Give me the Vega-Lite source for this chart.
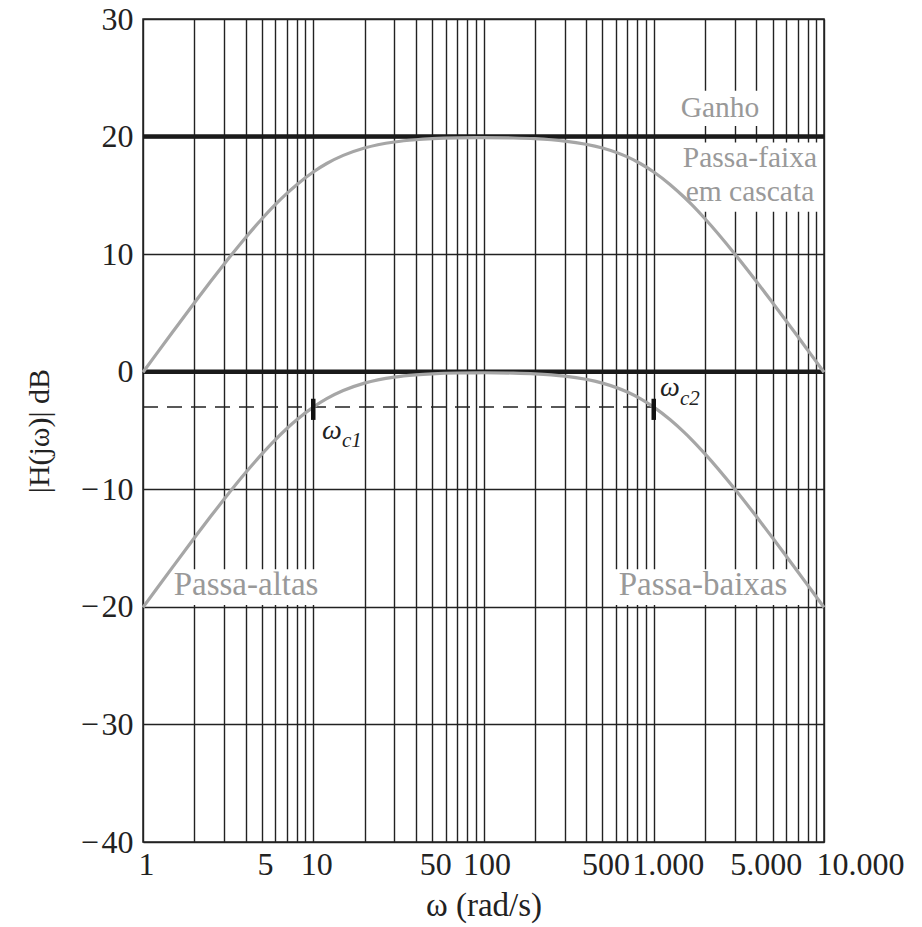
{
  "$schema": "https://vega.github.io/schema/vega-lite/v6.json",
  "width": 681,
  "height": 823,
  "autosize": {"type": "none"},
  "padding": {"left": 143, "top": 19, "right": 98, "bottom": 85},
  "background": "white",
  "config": {"view": {"stroke": "#222222", "strokeWidth": 1.5}, "font": "Liberation Serif"},
  "datasets": {
    "boxes": [
      {"w": 1633, "w2": 4500, "db": 20.9, "db2": 23.9},
      {"w": 1530, "w2": 9500, "db": 13.6, "db2": 19.5},
      {"w": 1.55, "w2": 12, "db": -19.85, "db2": -16.8},
      {"w": 590, "w2": 7700, "db": -19.85, "db2": -16.8}
    ],
    "dash": [{"w": 1, "w2": 1000, "db": -3}],
    "hlines": [{"db": 0}, {"db": 20}],
    "curves": [
      {"w": 1, "db": -20.04, "series": "Passa-faixa"},
      {"w": 1.2, "db": -18.48, "series": "Passa-faixa"},
      {"w": 1.5, "db": -16.58, "series": "Passa-faixa"},
      {"w": 2, "db": -14.15, "series": "Passa-faixa"},
      {"w": 2.5, "db": -12.30, "series": "Passa-faixa"},
      {"w": 3, "db": -10.83, "series": "Passa-faixa"},
      {"w": 4, "db": -8.60, "series": "Passa-faixa"},
      {"w": 5, "db": -6.99, "series": "Passa-faixa"},
      {"w": 6, "db": -5.77, "series": "Passa-faixa"},
      {"w": 7, "db": -4.83, "series": "Passa-faixa"},
      {"w": 8, "db": -4.09, "series": "Passa-faixa"},
      {"w": 10, "db": -3.01, "series": "Passa-faixa"},
      {"w": 12, "db": -2.29, "series": "Passa-faixa"},
      {"w": 15, "db": -1.60, "series": "Passa-faixa"},
      {"w": 20, "db": -0.97, "series": "Passa-faixa"},
      {"w": 30, "db": -0.46, "series": "Passa-faixa"},
      {"w": 40, "db": -0.27, "series": "Passa-faixa"},
      {"w": 50, "db": -0.18, "series": "Passa-faixa"},
      {"w": 70, "db": -0.11, "series": "Passa-faixa"},
      {"w": 100, "db": -0.09, "series": "Passa-faixa"},
      {"w": 150, "db": -0.12, "series": "Passa-faixa"},
      {"w": 200, "db": -0.18, "series": "Passa-faixa"},
      {"w": 250, "db": -0.27, "series": "Passa-faixa"},
      {"w": 300, "db": -0.38, "series": "Passa-faixa"},
      {"w": 500, "db": -0.97, "series": "Passa-faixa"},
      {"w": 700, "db": -1.73, "series": "Passa-faixa"},
      {"w": 833, "db": -2.29, "series": "Passa-faixa"},
      {"w": 1000, "db": -3.01, "series": "Passa-faixa"},
      {"w": 1250, "db": -4.09, "series": "Passa-faixa"},
      {"w": 1500, "db": -5.12, "series": "Passa-faixa"},
      {"w": 1667, "db": -5.77, "series": "Passa-faixa"},
      {"w": 2000, "db": -6.99, "series": "Passa-faixa"},
      {"w": 3000, "db": -10.00, "series": "Passa-faixa"},
      {"w": 4000, "db": -12.30, "series": "Passa-faixa"},
      {"w": 5000, "db": -14.15, "series": "Passa-faixa"},
      {"w": 7000, "db": -16.99, "series": "Passa-faixa"},
      {"w": 8333, "db": -18.48, "series": "Passa-faixa"},
      {"w": 10000, "db": -20.04, "series": "Passa-faixa"},
      {"w": 1, "db": -0.04, "series": "Cascata"},
      {"w": 1.2, "db": 1.52, "series": "Cascata"},
      {"w": 1.5, "db": 3.42, "series": "Cascata"},
      {"w": 2, "db": 5.85, "series": "Cascata"},
      {"w": 2.5, "db": 7.70, "series": "Cascata"},
      {"w": 3, "db": 9.17, "series": "Cascata"},
      {"w": 4, "db": 11.40, "series": "Cascata"},
      {"w": 5, "db": 13.01, "series": "Cascata"},
      {"w": 6, "db": 14.23, "series": "Cascata"},
      {"w": 7, "db": 15.17, "series": "Cascata"},
      {"w": 8, "db": 15.91, "series": "Cascata"},
      {"w": 10, "db": 16.99, "series": "Cascata"},
      {"w": 12, "db": 17.71, "series": "Cascata"},
      {"w": 15, "db": 18.40, "series": "Cascata"},
      {"w": 20, "db": 19.03, "series": "Cascata"},
      {"w": 30, "db": 19.54, "series": "Cascata"},
      {"w": 40, "db": 19.73, "series": "Cascata"},
      {"w": 50, "db": 19.82, "series": "Cascata"},
      {"w": 70, "db": 19.89, "series": "Cascata"},
      {"w": 100, "db": 19.91, "series": "Cascata"},
      {"w": 150, "db": 19.88, "series": "Cascata"},
      {"w": 200, "db": 19.82, "series": "Cascata"},
      {"w": 250, "db": 19.73, "series": "Cascata"},
      {"w": 300, "db": 19.62, "series": "Cascata"},
      {"w": 500, "db": 19.03, "series": "Cascata"},
      {"w": 700, "db": 18.27, "series": "Cascata"},
      {"w": 833, "db": 17.71, "series": "Cascata"},
      {"w": 1000, "db": 16.99, "series": "Cascata"},
      {"w": 1250, "db": 15.91, "series": "Cascata"},
      {"w": 1500, "db": 14.88, "series": "Cascata"},
      {"w": 1667, "db": 14.23, "series": "Cascata"},
      {"w": 2000, "db": 13.01, "series": "Cascata"},
      {"w": 3000, "db": 10.00, "series": "Cascata"},
      {"w": 4000, "db": 7.70, "series": "Cascata"},
      {"w": 5000, "db": 5.85, "series": "Cascata"},
      {"w": 7000, "db": 3.01, "series": "Cascata"},
      {"w": 8333, "db": 1.52, "series": "Cascata"},
      {"w": 10000, "db": -0.04, "series": "Cascata"}
    ],
    "cuts": [
      {"w": 10, "db": -2.3, "db2": -4.1},
      {"w": 1000, "db": -2.3, "db2": -4.1}
    ],
    "namesTop": [
      {"w": 2449, "db": 22.45, "text": "Ganho"},
      {"w": 3673, "db": 18.2, "text": "Passa-faixa"},
      {"w": 3673, "db": 15.3, "text": "em cascata"}
    ],
    "namesBottom": [
      {"w": 4.03, "db": -18.1, "text": "Passa-altas"},
      {"w": 1946, "db": -18.1, "text": "Passa-baixas"}
    ],
    "omegas": [
      {"w": 11.26, "db": -5.7, "text": "ω"},
      {"w": 1088, "db": -2.1, "text": "ω"}
    ],
    "subs": [
      {"w": 14.75, "db": -6.4, "text": "c1"},
      {"w": 1426, "db": -2.8, "text": "c2"}
    ]
  },
  "layer": [
    {
      "data": {"name": "boxes"},
      "mark": {"type": "rect", "fill": "white", "stroke": null},
      "encoding": {
        "x": {
          "field": "w", "type": "quantitative",
          "scale": {"type": "log", "domain": [1, 10000], "nice": false},
          "axis": {
            "values": [1,2,3,4,5,6,7,8,9,10,20,30,40,50,60,70,80,90,100,200,300,400,500,600,700,800,900,1000,2000,3000,4000,5000,6000,7000,8000,9000,10000],
            "grid": true, "gridColor": "#222222", "gridWidth": 1.4, "gridOpacity": 1,
            "domain": false, "ticks": false,
            "labelExpr": "datum.value==1?'1':datum.value==5?'5':datum.value==10?'10':datum.value==50?'50':datum.value==100?'100':datum.value==500?'500':datum.value==1000?'1.000':datum.value==5000?'5.000':datum.value==10000?'10.000':''",
            "labelFont": "Liberation Serif", "labelFontSize": 32, "labelColor": "#222222",
            "labelPadding": 7, "labelOverlap": false, "labelBound": false, "labelFlush": false,
            "labelOffset": {"condition": [{"test": "datum.value == 10000", "value": 36}, {"test": "datum.value == 1000", "value": 14}, {"test": "datum.value == 5000", "value": -7}], "value": 3},
            "title": "ω (rad/s)", "titleFont": "Liberation Serif", "titleFontSize": 33, "titleFontWeight": "normal", "titleColor": "#222222", "titlePadding": 9
          }
        },
        "x2": {"field": "w2"},
        "y": {
          "field": "db", "type": "quantitative",
          "scale": {"domain": [-40, 30], "nice": false, "zero": false},
          "axis": {
            "values": [-40, -30, -20, -10, 0, 10, 20, 30],
            "grid": true, "gridColor": "#222222", "gridWidth": 1.4, "gridOpacity": 1,
            "domain": false, "ticks": false,
            "labelExpr": "datum.value < 0 ? '−\u200a' + abs(datum.value) : '' + datum.value",
            "labelFont": "Liberation Serif", "labelFontSize": 32, "labelColor": "#222222", "labelPadding": 10,
            "labelBound": false, "labelFlush": false,
            "title": "|H(jω)| dB", "titleFont": "Liberation Serif", "titleFontSize": 30, "titleFontWeight": "normal", "titleColor": "#222222", "titlePadding": 26
          }
        },
        "y2": {"field": "db2"}
      }
    },
    {
      "data": {"name": "dash"},
      "mark": {"type": "rule", "color": "#222222", "strokeWidth": 1.5, "strokeDash": [15, 9]},
      "encoding": {
        "x": {"field": "w", "type": "quantitative"},
        "x2": {"field": "w2"},
        "y": {"field": "db", "type": "quantitative"}
      }
    },
    {
      "data": {"name": "hlines"},
      "mark": {"type": "rule", "color": "#1a1a1a", "strokeWidth": 4.5},
      "encoding": {
        "y": {"field": "db", "type": "quantitative"}
      }
    },
    {
      "data": {"name": "curves"},
      "mark": {"type": "line", "color": "#a6a6a6", "strokeWidth": 3.2, "interpolate": "monotone"},
      "encoding": {
        "x": {"field": "w", "type": "quantitative"},
        "y": {"field": "db", "type": "quantitative"},
        "detail": {"field": "series"}
      }
    },
    {
      "data": {"name": "cuts"},
      "mark": {"type": "rule", "color": "#111111", "strokeWidth": 4.5},
      "encoding": {
        "x": {"field": "w", "type": "quantitative"},
        "y": {"field": "db", "type": "quantitative"},
        "y2": {"field": "db2"}
      }
    },
    {
      "data": {"name": "namesTop"},
      "mark": {"type": "text", "color": "#999999", "font": "Liberation Serif", "fontSize": 29.5, "align": "center", "baseline": "middle"},
      "encoding": {
        "x": {"field": "w", "type": "quantitative"},
        "y": {"field": "db", "type": "quantitative"},
        "text": {"field": "text"}
      }
    },
    {
      "data": {"name": "namesBottom"},
      "mark": {"type": "text", "color": "#999999", "font": "Liberation Serif", "fontSize": 33, "align": "center", "baseline": "middle"},
      "encoding": {
        "x": {"field": "w", "type": "quantitative"},
        "y": {"field": "db", "type": "quantitative"},
        "text": {"field": "text"}
      }
    },
    {
      "data": {"name": "omegas"},
      "mark": {"type": "text", "color": "#222222", "font": "Liberation Serif", "fontStyle": "italic", "fontSize": 28, "align": "left", "baseline": "alphabetic"},
      "encoding": {
        "x": {"field": "w", "type": "quantitative"},
        "y": {"field": "db", "type": "quantitative"},
        "text": {"field": "text"}
      }
    },
    {
      "data": {"name": "subs"},
      "mark": {"type": "text", "color": "#222222", "font": "Liberation Serif", "fontStyle": "italic", "fontSize": 21, "align": "left", "baseline": "alphabetic"},
      "encoding": {
        "x": {"field": "w", "type": "quantitative"},
        "y": {"field": "db", "type": "quantitative"},
        "text": {"field": "text"}
      }
    }
  ]
}
